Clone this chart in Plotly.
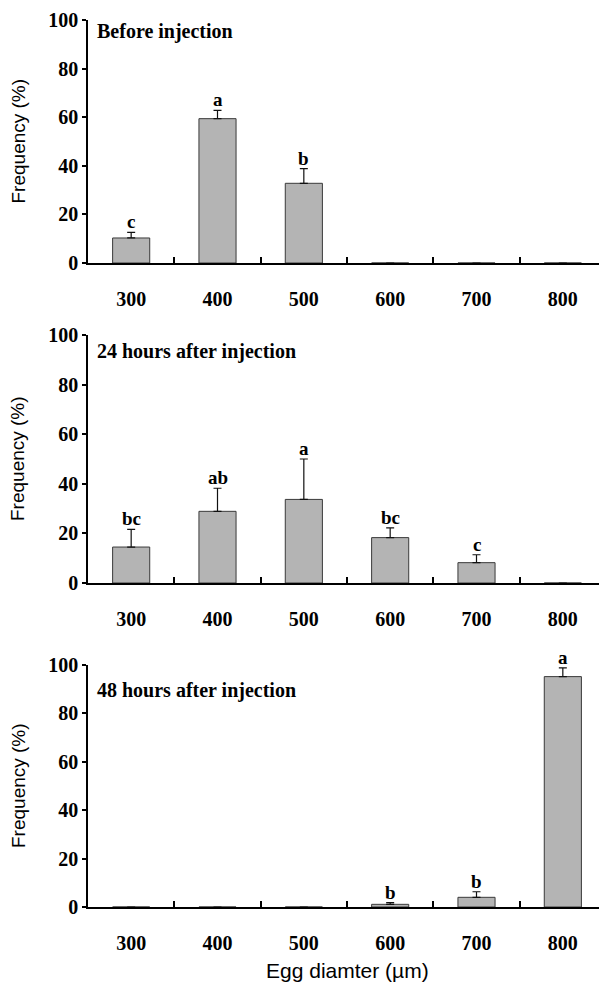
import plotly.graph_objects as go

categories = ["300", "400", "500", "600", "700", "800"]

before_vals = [10.3, 59.4, 32.8, 0, 0, 0]
before_err = [2.3, 3.4, 6.0, 0, 0, 0]
before_letters = ["c", "a", "b", "", "", ""]

h24_vals = [14.5, 28.9, 33.7, 18.3, 8.2, 0]
h24_err = [7.1, 9.3, 16.3, 3.9, 3.2, 0]
h24_letters = ["bc", "ab", "a", "bc", "c", ""]

h48_vals = [0, 0, 0, 1.1, 4.0, 95.2]
h48_err = [0, 0, 0, 0.7, 2.3, 3.6]
h48_letters = ["", "", "", "b", "b", "a"]

panel_titles = ["Before injection", "24 hours after injection", "48 hours after injection"]
y_ticks = [0, 20, 40, 60, 80, 100]
y_title = "Frequency (%)"
x_title = "Egg diamter (µm)"

# page body has default 8px margin; lay out in page pixels and convert
PAGE_W, PAGE_H, OFF = 607, 987, 8
W, H = PAGE_W - OFF, PAGE_H - OFF


def xp(px):
    return (px - OFF) / W


def yp(py):
    return 1 - (py - OFF) / H


SERIF = "Liberation Serif"
SANS = "Liberation Sans"

panels = [
    (before_vals, before_err, before_letters, (20, 263)),
    (h24_vals, h24_err, h24_letters, (335, 583)),
    (h48_vals, h48_err, h48_letters, (665, 907)),
]
title_offsets = [12, 17, 25]

fig = go.Figure()
annotations = []
for i, (vals, errs, letters, (top, bot)) in enumerate(panels):
    n = i + 1
    xa = "x" if n == 1 else f"x{n}"
    ya = "y" if n == 1 else f"y{n}"
    fig.add_trace(go.Bar(
        x=categories, y=vals, xaxis=xa, yaxis=ya,
        width=0.43,
        marker=dict(color="#b4b4b4", line=dict(color="#3a3a3a", width=1)),
        error_y=dict(type="data", array=[e if e > 0 else None for e in errs],
                     symmetric=False, arrayminus=[0] * len(errs),
                     color="#111111", thickness=1.2, width=4),
        showlegend=False,
    ))
    for k, (v, e, lt) in enumerate(zip(vals, errs, letters)):
        if lt:
            annotations.append(dict(
                x=k, y=v + e, xref=xa, yref=ya, text=lt,
                showarrow=False, yanchor="bottom", yshift=-2,
                font=dict(family=SERIF, size=19, color="black", weight="bold"),
            ))
    ph = bot - top
    annotations.append(dict(
        xref=f"{xa} domain", yref=f"{ya} domain", x=0.014, y=1 - title_offsets[i] / ph,
        xanchor="left", yanchor="middle", text=panel_titles[i],
        showarrow=False, font=dict(family=SERIF, size=20, color="black", weight="bold"),
    ))
    annotations.append(dict(
        xref="paper", yref=f"{ya} domain", x=xp(18), y=0.5,
        xanchor="center", yanchor="middle", textangle=-90, text=y_title,
        showarrow=False, font=dict(family=SANS, size=19, color="black"),
    ))
    ydom = [yp(bot), yp(top)]
    xkey = "xaxis" if n == 1 else f"xaxis{n}"
    ykey = "yaxis" if n == 1 else f"yaxis{n}"
    fig.update_layout(**{
        xkey: dict(
            domain=[xp(88), xp(606)], anchor=ya, type="category",
            categoryorder="array", categoryarray=categories,
            range=[-0.5, 5.5], showline=True, linecolor="black", linewidth=1.5,
            ticks="inside", tickson="boundaries", ticklen=6, tickcolor="black",
            tickwidth=1.5, showgrid=False, zeroline=False, automargin=False,
            tickfont=dict(family=SERIF, size=20, color="black", weight="bold"),
            ticklabelstandoff=17,
        ),
        ykey: dict(
            domain=ydom, anchor=xa, range=[0, 100], tickvals=y_ticks,
            showline=True, linecolor="black", linewidth=1.5,
            ticks="outside", ticklen=4, tickcolor="black", tickwidth=1.5,
            showgrid=False, zeroline=False, automargin=False,
            ticklabeloverflow="allow",
            tickfont=dict(family=SERIF, size=20, color="black", weight="bold"),
        ),
    })

annotations.append(dict(
    xref="x3 domain", yref="paper", x=0.5, y=yp(970),
    xanchor="center", yanchor="middle", text=x_title,
    showarrow=False, font=dict(family=SANS, size=21, color="black"),
))

fig.update_layout(
    width=W, height=H, margin=dict(l=0, r=0, t=0, b=0),
    paper_bgcolor="white", plot_bgcolor="white",
    annotations=annotations,
)
fig.update_yaxes(tickformat="d")
fig.write_html("out.html")
